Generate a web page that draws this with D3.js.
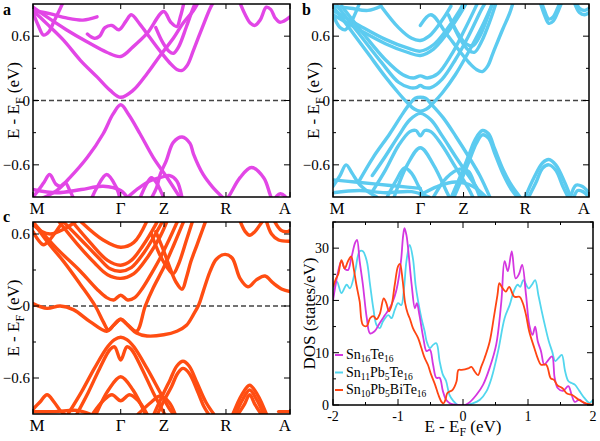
<!DOCTYPE html>
<html><head><meta charset="utf-8">
<script src="https://cdn.jsdelivr.net/npm/d3@7"></script>
<style>body{margin:0;background:#fff}svg{display:block}</style>
</head><body>
<svg id="chart" width="600" height="441" font-family="Liberation Serif, Times New Roman, DejaVu Serif, serif"></svg>
<script>
// ---------------- DATA ----------------
const kLabels = ["M","Γ","Z","R","A"];
const kTicks = [0, 1, 1.494, 2.2, 2.93];
const bandMajorTicks = [-0.6, 0, 0.6];
const bandMinorTicks = [-0.3, 0.3];

// Sn16Te16 bands (k, E-EF)
const bandsA = [
  [[0.11,-0.91],[0.27,-0.84],[0.42,-0.72],[0.62,-0.53],[0.80,-0.31],[0.91,-0.13],[1.0,-0.04],[1.09,-0.13],[1.22,-0.31],[1.37,-0.53],[1.53,-0.72],[1.68,-0.91]],
  [[1.35,-0.91],[1.41,-0.81],[1.45,-0.69],[1.52,-0.56],[1.60,-0.39],[1.70,-0.34],[1.79,-0.40],[1.83,-0.50],[1.94,-0.69],[2.05,-0.81],[2.17,-0.91]],
  [[2.21,-0.92],[2.25,-0.87],[2.36,-0.72],[2.49,-0.625],[2.63,-0.72],[2.70,-0.87],[2.72,-0.92]],
  [[2.76,-0.92],[2.78,-0.89],[2.82,-0.87],[2.87,-0.89],[2.89,-0.92]],
  [[0.0,-0.9],[0.04,-0.86],[0.12,-0.77],[0.19,-0.69],[0.26,-0.78],[0.31,-0.80],[0.37,-0.77],[0.42,-0.84],[0.46,-0.91]],
  [[0.67,-0.91],[0.73,-0.81],[0.84,-0.69],[0.95,-0.81],[0.99,-0.91]],
  [[0.0,-0.83],[0.27,-0.86],[0.55,-0.83],[0.8,-0.80],[1.0,-0.84],[1.08,-0.91]],
  [[1.07,-0.91],[1.20,-0.82],[1.33,-0.75],[1.45,-0.72],[1.56,-0.70],[1.64,-0.75],[1.70,-0.91]],
  [[1.22,-0.91],[1.30,-0.77],[1.35,-0.72],[1.41,-0.77],[1.49,-0.91]],
  [[0.0,0.84],[0.04,0.81],[0.19,0.69],[0.35,0.56],[0.54,0.375],[0.73,0.22],[0.88,0.094],[1.0,0.03],[1.14,0.094],[1.30,0.25],[1.45,0.42],[1.60,0.58],[1.71,0.72],[1.83,0.84],[1.88,0.91]],
  [[0.0,0.87],[0.12,0.80],[0.38,0.66],[0.61,0.55],[0.84,0.45],[1.0,0.41],[1.14,0.50],[1.30,0.625],[1.49,0.83],[1.57,0.73],[1.64,0.69],[1.68,0.78],[1.72,0.91]],
  [[0.62,0.62],[0.70,0.58],[0.76,0.60],[0.82,0.68],[0.90,0.70],[0.98,0.66],[1.06,0.74],[1.12,0.80],[1.22,0.71],[1.33,0.59],[1.45,0.46],[1.56,0.35],[1.64,0.29],[1.70,0.28],[1.76,0.33],[1.83,0.47],[1.93,0.68],[2.02,0.86],[2.06,0.92]],
  [[1.40,0.68],[1.48,0.54],[1.55,0.46],[1.60,0.44],[1.66,0.50],[1.75,0.69],[1.83,0.87],[1.86,0.92]],
  [[2.36,0.91],[2.42,0.80],[2.48,0.72],[2.53,0.70],[2.59,0.75],[2.66,0.87],[2.71,0.85],[2.76,0.77],[2.81,0.73],[2.86,0.74],[2.93,0.78]],
  [[0.0,0.84],[0.19,0.81],[0.38,0.77],[0.57,0.75],[0.73,0.78]],
  [[0.0,0.82],[0.06,0.70],[0.12,0.61],[0.18,0.64],[0.24,0.74],[0.30,0.84],[0.34,0.91]]
];

// Sn11Pb5Te16 bands
const bandsB = [
  [[0.0,0.88],[0.2,0.66],[0.4,0.44],[0.6,0.22],[0.75,0.07],[0.85,-0.02],[0.93,-0.08],[1.0,-0.1],[1.07,-0.08],[1.15,-0.02],[1.25,0.07],[1.4,0.24],[1.55,0.45],[1.7,0.68],[1.83,0.91]],
  [[0.3,-0.75],[0.46,-0.53],[0.65,-0.31],[0.80,-0.12],[0.88,-0.03],[0.94,0.02],[1.0,0.03],[1.06,0.02],[1.12,-0.03],[1.26,-0.16],[1.41,-0.34],[1.55,-0.52],[1.68,-0.70],[1.8,-0.91]],
  [[0.05,0.88],[0.3,0.62],[0.55,0.36],[0.75,0.17],[0.88,0.12],[0.95,0.12],[1.0,0.14],[1.05,0.12],[1.12,0.12],[1.25,0.2],[1.4,0.38],[1.55,0.6],[1.7,0.85],[1.75,0.92]],
  [[0.1,0.88],[0.35,0.62],[0.6,0.38],[0.8,0.24],[0.92,0.21],[1.0,0.23],[1.08,0.21],[1.2,0.25],[1.35,0.42],[1.5,0.65],[1.62,0.85],[1.66,0.92]],
  [[0.0,0.80],[0.3,0.66],[0.6,0.53],[0.85,0.45],[1.0,0.42],[1.15,0.48],[1.3,0.62],[1.45,0.8],[1.52,0.9]],
  [[0.0,0.84],[0.3,0.70],[0.6,0.57],[0.85,0.49],[1.0,0.46],[1.15,0.52],[1.3,0.66],[1.45,0.84],[1.5,0.92]],
  [[0.55,0.88],[0.75,0.68],[0.9,0.58],[1.0,0.56],[1.1,0.6],[1.25,0.75],[1.35,0.88]],
  [[1.0,0.7],[1.12,0.8],[1.3,0.62],[1.45,0.46],[1.56,0.35],[1.64,0.29],[1.71,0.27],[1.77,0.32],[1.83,0.44],[1.94,0.66],[2.02,0.81],[2.06,0.91]],
  [[1.35,0.75],[1.45,0.58],[1.55,0.47],[1.62,0.45],[1.7,0.55],[1.8,0.75],[1.87,0.92]],
  [[1.32,0.8],[1.42,0.64],[1.52,0.53],[1.60,0.51],[1.68,0.60],[1.78,0.80],[1.83,0.92]],
  [[2.37,0.92],[2.42,0.80],[2.47,0.72],[2.52,0.74],[2.58,0.84],[2.62,0.92]],
  [[2.37,0.96],[2.42,0.84],[2.47,0.76],[2.52,0.78],[2.58,0.88],[2.61,0.94]],
  [[2.76,0.92],[2.82,0.82],[2.88,0.80],[2.93,0.82]],
  [[2.76,0.96],[2.82,0.86],[2.88,0.84],[2.93,0.86]],
  [[0.0,0.88],[0.2,0.86],[0.4,0.84],[0.55,0.88]],
  [[0.0,0.80],[0.08,0.68],[0.14,0.66],[0.2,0.72],[0.28,0.86],[0.31,0.92]],
  [[0.45,-0.70],[0.6,-0.52],[0.75,-0.33],[0.88,-0.18],[1.0,-0.12],[1.12,-0.18],[1.25,-0.33],[1.4,-0.52],[1.55,-0.70],[1.65,-0.82],[1.7,-0.9]],
  [[0.45,-0.85],[0.6,-0.65],[0.75,-0.42],[0.88,-0.29],[0.95,-0.28],[1.0,-0.33],[1.05,-0.28],[1.12,-0.29],[1.25,-0.42],[1.4,-0.62],[1.55,-0.82],[1.6,-0.9]],
  [[0.7,-0.9],[0.85,-0.6],[1.0,-0.44],[1.15,-0.6],[1.3,-0.85],[1.33,-0.9]],
  [[1.35,-0.91],[1.45,-0.72],[1.55,-0.52],[1.63,-0.36],[1.71,-0.28],[1.78,-0.31],[1.85,-0.45],[1.95,-0.65],[2.05,-0.8],[2.15,-0.91]],
  [[1.38,-0.91],[1.47,-0.74],[1.56,-0.56],[1.64,-0.40],[1.71,-0.32],[1.78,-0.35],[1.85,-0.49],[1.95,-0.69],[2.05,-0.84],[2.12,-0.91]],
  [[2.2,-0.9],[2.3,-0.72],[2.4,-0.58],[2.47,-0.55],[2.55,-0.6],[2.65,-0.76],[2.72,-0.9]],
  [[2.24,-0.9],[2.32,-0.77],[2.4,-0.63],[2.47,-0.60],[2.55,-0.65],[2.63,-0.80],[2.69,-0.9]],
  [[2.72,-0.9],[2.78,-0.79],[2.85,-0.80],[2.93,-0.86]],
  [[2.75,-0.92],[2.8,-0.84],[2.86,-0.85],[2.93,-0.90]],
  [[0.0,-0.8],[0.08,-0.7],[0.15,-0.6],[0.22,-0.68],[0.3,-0.78],[0.4,-0.85],[0.5,-0.9]],
  [[0.0,-0.74],[0.25,-0.76],[0.5,-0.78],[0.75,-0.80],[1.0,-0.82]],
  [[0.0,-0.86],[0.3,-0.84],[0.6,-0.86],[0.9,-0.85],[1.1,-0.9]],
  [[0.62,-0.9],[0.72,-0.75],[0.82,-0.63],[0.9,-0.68],[0.98,-0.8],[1.05,-0.9]],
  [[1.15,-0.9],[1.3,-0.72],[1.45,-0.64],[1.55,-0.66],[1.62,-0.78],[1.68,-0.9]],
  [[1.0,-0.88],[1.2,-0.80],[1.4,-0.76],[1.6,-0.80],[1.75,-0.90]]
];

// Sn10Pb5BiTe16 bands
const bandsC = [
  [[0.0,0.02],[0.16,-0.02],[0.31,0.0],[0.46,-0.03],[0.65,-0.13],[0.84,-0.21],[0.92,-0.16],[1.0,-0.11],[1.08,-0.16],[1.18,-0.225],[1.3,-0.25],[1.49,-0.24],[1.64,-0.21],[1.75,-0.16],[1.83,-0.07],[1.89,0.01],[1.94,0.12],[2.02,0.29],[2.09,0.39],[2.19,0.43],[2.27,0.40],[2.36,0.23],[2.45,0.16],[2.55,0.22],[2.645,0.25],[2.74,0.19],[2.84,0.14],[2.93,0.12]],
  [[0.0,0.70],[0.19,0.51],[0.35,0.37],[0.54,0.18],[0.71,0.0],[0.80,-0.13],[0.86,-0.2],[0.93,-0.15],[1.0,-0.11],[1.07,-0.15],[1.18,-0.21],[1.28,0.0],[1.37,0.15],[1.49,0.32],[1.6,0.5],[1.72,0.71]],
  [[0.0,0.70],[0.27,0.48],[0.54,0.29],[0.73,0.14],[0.84,0.07],[0.92,0.05],[1.0,0.09],[1.08,0.05],[1.16,0.07],[1.25,0.15],[1.35,0.27],[1.45,0.4],[1.55,0.55],[1.65,0.71]],
  [[0.3,0.70],[0.5,0.52],[0.7,0.36],[0.85,0.26],[1.0,0.23],[1.15,0.27],[1.3,0.4],[1.45,0.58],[1.53,0.71]],
  [[0.35,0.70],[0.55,0.55],[0.75,0.40],[0.88,0.31],[1.0,0.29],[1.12,0.32],[1.27,0.45],[1.42,0.63],[1.48,0.71]],
  [[0.45,0.70],[0.65,0.53],[0.85,0.38],[1.0,0.34],[1.12,0.38],[1.25,0.5],[1.4,0.68],[1.42,0.71]],
  [[0.55,0.70],[0.8,0.55],[1.0,0.49],[1.15,0.53],[1.3,0.71]],
  [[1.4,0.62],[1.49,0.46],[1.56,0.32],[1.63,0.2],[1.70,0.14],[1.75,0.24],[1.8,0.37],[1.87,0.51],[1.94,0.65],[1.97,0.71]],
  [[1.35,0.6],[1.45,0.42],[1.55,0.3],[1.6,0.27],[1.66,0.35],[1.75,0.55],[1.82,0.71]],
  [[2.36,0.71],[2.42,0.62],[2.47,0.59],[2.53,0.62],[2.59,0.68],[2.62,0.71]],
  [[2.66,0.71],[2.72,0.60],[2.8,0.55],[2.93,0.54]],
  [[2.75,0.71],[2.83,0.63],[2.9,0.62],[2.93,0.63]],
  [[0.0,0.62],[0.06,0.55],[0.12,0.51],[0.2,0.56],[0.3,0.66],[0.35,0.71]],
  [[0.0,0.68],[0.1,0.62],[0.2,0.60],[0.35,0.64],[0.5,0.71]],
  [[0.4,-0.9],[0.55,-0.72],[0.7,-0.52],[0.85,-0.34],[0.93,-0.28],[1.0,-0.26],[1.07,-0.28],[1.15,-0.34],[1.3,-0.52],[1.45,-0.72],[1.55,-0.85],[1.6,-0.9]],
  [[0.5,-0.9],[0.63,-0.72],[0.76,-0.52],[0.88,-0.36],[0.93,-0.34],[1.0,-0.45],[1.07,-0.34],[1.12,-0.36],[1.24,-0.52],[1.37,-0.72],[1.5,-0.9]],
  [[0.72,-0.9],[0.86,-0.7],[1.0,-0.59],[1.14,-0.7],[1.28,-0.9]],
  [[0.68,-0.9],[0.8,-0.79],[0.9,-0.74],[1.0,-0.79],[1.1,-0.74],[1.2,-0.79],[1.3,-0.9]],
  [[1.38,-0.9],[1.48,-0.74],[1.56,-0.62],[1.64,-0.50],[1.71,-0.46],[1.78,-0.5],[1.87,-0.64],[1.97,-0.8],[2.06,-0.9]],
  [[1.42,-0.9],[1.5,-0.78],[1.58,-0.67],[1.65,-0.56],[1.71,-0.52],[1.78,-0.56],[1.87,-0.70],[1.95,-0.84],[2.0,-0.9]],
  [[2.28,-0.9],[2.38,-0.74],[2.47,-0.66],[2.56,-0.74],[2.66,-0.9]],
  [[2.31,-0.9],[2.39,-0.78],[2.47,-0.70],[2.55,-0.78],[2.63,-0.9]],
  [[2.34,-0.9],[2.41,-0.82],[2.47,-0.74],[2.53,-0.82],[2.6,-0.9]],
  [[0.0,-0.86],[0.08,-0.8],[0.16,-0.74],[0.24,-0.8],[0.32,-0.88],[0.36,-0.9]],
  [[0.0,-0.88],[0.25,-0.88],[0.5,-0.87],[0.65,-0.9]],
  [[1.2,-0.9],[1.35,-0.8],[1.45,-0.75],[1.55,-0.8],[1.62,-0.9]],
  [[2.8,-0.88],[2.93,-0.88]]
];

// DOS panel
const dosXTicks = [-2, -1, 0, 1, 2];
const dosYTicks = [0, 10, 20, 30];
const seriesNames = ["Sn16Te16", "Sn11Pb5Te16", "Sn10Pb5BiTe16"];
const dosSn16Te16 = [[-2,20],[-1.96,23],[-1.92,25.6],[-1.87,27.5],[-1.82,26.1],[-1.77,25.8],[-1.72,28],[-1.66,31],[-1.63,31.6],[-1.59,27.5],[-1.54,23],[-1.48,16.6],[-1.43,13.7],[-1.36,14.1],[-1.28,15.7],[-1.2,17.2],[-1.13,18.5],[-1.08,19.8],[-1.03,21.7],[-0.98,25],[-0.95,28],[-0.92,32.5],[-0.9,33.8],[-0.87,32.5],[-0.85,30.6],[-0.79,23],[-0.74,18.5],[-0.71,19.5],[-0.67,17.2],[-0.61,12.8],[-0.56,10.3],[-0.51,10.6],[-0.46,7.7],[-0.41,5.2],[-0.36,5.2],[-0.31,2.7],[-0.26,1],[-0.21,0.4],[-0.15,0.1],[-0.05,0],[0.03,0],[0.1,0.5],[0.21,2],[0.31,3.9],[0.41,7.1],[0.51,11.5],[0.59,19.8],[0.64,27.5],[0.69,25.6],[0.75,29.4],[0.81,24.2],[0.86,25],[0.91,26.8],[0.97,21],[1.02,15.3],[1.07,13.4],[1.11,15],[1.15,12.2],[1.2,10.3],[1.25,7.7],[1.3,8.4],[1.37,9.3],[1.41,5.2],[1.46,3.2],[1.54,2.7],[1.62,3.6],[1.67,2],[1.72,0.6],[1.79,1],[1.87,0.3],[1.97,0],[2,0]];
const dosSn11Pb5Te16 = [[-2,22],[-1.94,23.6],[-1.87,21.4],[-1.79,23],[-1.74,22.3],[-1.66,25.6],[-1.59,29.4],[-1.54,29.4],[-1.48,27.5],[-1.43,23],[-1.38,18.5],[-1.33,15.3],[-1.28,14.7],[-1.23,16],[-1.15,17.2],[-1.1,16.6],[-1.05,18.2],[-1.0,19.5],[-0.95,19.1],[-0.91,22],[-0.87,27.5],[-0.82,30.6],[-0.77,28],[-0.73,23],[-0.69,19.8],[-0.64,16.6],[-0.59,14.1],[-0.56,12.2],[-0.51,10.9],[-0.46,11.5],[-0.41,11.8],[-0.36,8.4],[-0.31,5.8],[-0.26,4.6],[-0.21,2],[-0.15,0.8],[-0.08,0],[0.05,0],[0.15,0.3],[0.26,1],[0.36,2.6],[0.44,5.2],[0.54,10.3],[0.64,16.6],[0.72,19.2],[0.78,21.7],[0.84,23],[0.88,22.6],[0.93,23.9],[1.01,22.3],[1.06,23],[1.11,23.9],[1.16,21],[1.21,18],[1.27,14.7],[1.32,12.2],[1.37,10.3],[1.42,8.4],[1.47,9],[1.52,9.6],[1.57,6.5],[1.62,4.6],[1.67,4.2],[1.72,3.9],[1.79,2.7],[1.87,1.3],[1.95,0.4],[2.0,1]];
const dosSn10Pb5BiTe16 = [[-2,22.5],[-1.96,24],[-1.92,25],[-1.87,27.7],[-1.82,26.1],[-1.77,27.5],[-1.72,28.4],[-1.68,26],[-1.64,23],[-1.59,19.8],[-1.54,15.3],[-1.48,15.1],[-1.43,16.6],[-1.38,17.0],[-1.33,16.4],[-1.28,17.4],[-1.22,20.4],[-1.18,19.5],[-1.14,17.9],[-1.1,19],[-1.05,23],[-1.0,26.5],[-0.97,27],[-0.93,24],[-0.89,19.5],[-0.85,17.5],[-0.82,16.6],[-0.77,14.7],[-0.69,12.8],[-0.64,10.9],[-0.59,9],[-0.54,7.7],[-0.49,5.8],[-0.43,3.9],[-0.38,2],[-0.33,0.6],[-0.3,0.3],[-0.27,1],[-0.24,2.3],[-0.16,2.9],[-0.1,4.5],[-0.07,6.7],[-0.02,6.7],[0.03,6.8],[0.08,7],[0.13,7.3],[0.18,6.4],[0.23,5.7],[0.28,7.3],[0.33,8.9],[0.41,12.1],[0.48,17.2],[0.53,21],[0.56,23.3],[0.6,22.5],[0.66,21.7],[0.71,22.6],[0.79,20.7],[0.87,20.7],[0.92,19.5],[0.97,17.2],[1.02,14],[1.1,10.8],[1.15,8.9],[1.2,7.7],[1.28,7.7],[1.35,5.1],[1.4,4.8],[1.45,3.8],[1.53,3.2],[1.6,2.2],[1.68,1.9],[1.78,1],[1.89,0.3],[1.96,0.1],[2,0]];

// ---------------- DRAW ----------------
const FONT = "Liberation Serif, Times New Roman, DejaVu Serif, serif";
const svg = d3.select("#chart");
const cols = {a:"#e246e6", b:"#5ccbf0", c:"#ff4d12"};
const dosCols = ["#d436e0", "#52d6ee", "#ff4512"];

function txt(sel) { return sel.append("text").attr("font-family", FONT); }

function bandPanel(id, bands, color, box, eDom, letter, lx, ly) {
  const g = svg.append("g");
  const x = d3.scaleLinear().domain([kTicks[0], kTicks[kTicks.length-1]]).range([box.x0, box.x1]);
  const y = d3.scaleLinear().domain(eDom).range([box.y1, box.y0]);
  const clip = "clip-" + id;
  svg.append("clipPath").attr("id", clip).append("rect")
    .attr("x", box.x0).attr("y", box.y0).attr("width", box.x1-box.x0).attr("height", box.y1-box.y0);
  g.append("line").attr("x1", box.x0).attr("x2", box.x1).attr("y1", y(0)).attr("y2", y(0))
    .attr("stroke", "#444").attr("stroke-width", 1.4).attr("stroke-dasharray", "5,3");
  const line = d3.line().x(d => x(d[0])).y(d => y(d[1])).curve(d3.curveCatmullRom.alpha(0.5));
  g.append("g").attr("clip-path", `url(#${clip})`).selectAll("path").data(bands).join("path")
    .attr("d", line).attr("fill", "none").attr("stroke", color).attr("stroke-width", 3.4)
    .attr("stroke-linecap", "round").attr("stroke-linejoin", "round");
  g.append("rect").attr("x", box.x0).attr("y", box.y0).attr("width", box.x1-box.x0).attr("height", box.y1-box.y0)
    .attr("fill", "none").attr("stroke", "#000").attr("stroke-width", 1.5);
  const yt = g.append("g");
  bandMajorTicks.forEach(v => {
    yt.append("line").attr("x1", box.x0).attr("x2", box.x0+6).attr("y1", y(v)).attr("y2", y(v)).attr("stroke", "#000");
    yt.append("line").attr("x1", box.x1).attr("x2", box.x1-6).attr("y1", y(v)).attr("y2", y(v)).attr("stroke", "#000");
    txt(yt).attr("x", box.x0-3).attr("y", y(v)+5).attr("text-anchor", "end").attr("font-size", 15)
      .text(v === 0 ? "0" : d3.format(".1f")(v));
  });
  bandMinorTicks.forEach(v => {
    yt.append("line").attr("x1", box.x0).attr("x2", box.x0+3).attr("y1", y(v)).attr("y2", y(v)).attr("stroke", "#000");
    yt.append("line").attr("x1", box.x1).attr("x2", box.x1-3).attr("y1", y(v)).attr("y2", y(v)).attr("stroke", "#000");
  });
  kTicks.forEach((k, i) => {
    g.append("line").attr("x1", x(k)).attr("x2", x(k)).attr("y1", box.y1).attr("y2", box.y1-5).attr("stroke", "#000");
    g.append("line").attr("x1", x(k)).attr("x2", x(k)).attr("y1", box.y0).attr("y2", box.y0+5).attr("stroke", "#000");
    const dx = i === 0 ? 4 : (i === kTicks.length-1 ? -5 : 0);
    txt(g).attr("x", x(k)+dx).attr("y", box.y1+17).attr("text-anchor", "middle").attr("font-size", 17).text(kLabels[i]);
  });
  const cy = (box.y0 + box.y1)/2;
  const t = txt(g).attr("transform", `translate(${box.x0-14},${cy}) rotate(-90)`)
    .attr("text-anchor", "middle").attr("font-size", 17);
  t.append("tspan").text("E - E");
  t.append("tspan").attr("font-size", 12).attr("dy", 5).text("F");
  t.append("tspan").attr("dy", -5).text(" (eV)");
  txt(svg).attr("x", lx).attr("y", ly).attr("font-size", 16).attr("font-weight", "bold").text(letter);
}

bandPanel("a", bandsA, cols.a, {x0:33, x1:290, y0:4, y1:197}, [-0.9, 0.9], "a", 3, 15);
bandPanel("b", bandsB, cols.b, {x0:333, x1:589, y0:4, y1:197}, [-0.9, 0.9], "b", 302, 15);
bandPanel("c", bandsC, cols.c, {x0:33, x1:290, y0:222, y1:414}, [-0.9, 0.7], "c", 3, 222);

(function(){
  const box = {x0:333, x1:593, y0:222, y1:405};
  const x = d3.scaleLinear().domain([-2, 2]).range([box.x0, box.x1]);
  const y = d3.scaleLinear().domain([0, 35]).range([box.y1, box.y0]);
  const g = svg.append("g");
  svg.append("clipPath").attr("id", "clip-d").append("rect")
    .attr("x", box.x0).attr("y", box.y0).attr("width", box.x1-box.x0).attr("height", box.y1-box.y0);
  const line = d3.line().x(d => x(d[0])).y(d => y(d[1])).curve(d3.curveCatmullRom.alpha(0.5));
  const all = [dosSn16Te16, dosSn11Pb5Te16, dosSn10Pb5BiTe16];
  const order = [1, 0, 2];
  g.append("g").attr("clip-path", "url(#clip-d)").selectAll("path").data(order).join("path")
    .attr("d", i => line(all[i])).attr("fill", "none").attr("stroke", i => dosCols[i]).attr("stroke-width", 1.8);
  g.append("rect").attr("x", box.x0).attr("y", box.y0).attr("width", box.x1-box.x0).attr("height", box.y1-box.y0)
    .attr("fill", "none").attr("stroke", "#000").attr("stroke-width", 1.5);
  d3.range(-2, 2.01, 0.5).forEach(v => {
    const major = Math.abs(v - Math.round(v)) < 1e-6;
    const L = major ? 6 : 3;
    g.append("line").attr("x1", x(v)).attr("x2", x(v)).attr("y1", box.y1).attr("y2", box.y1-L).attr("stroke", "#000");
    g.append("line").attr("x1", x(v)).attr("x2", x(v)).attr("y1", box.y0).attr("y2", box.y0+L).attr("stroke", "#000");
  });
  dosXTicks.forEach(v => {
    txt(g).attr("x", x(v)).attr("y", box.y1+16).attr("text-anchor", "middle").attr("font-size", 14).text(v);
  });
  d3.range(0, 35.1, 5).forEach(v => {
    const major = v % 10 === 0;
    const L = major ? 6 : 3;
    g.append("line").attr("x1", box.x0).attr("x2", box.x0+L).attr("y1", y(v)).attr("y2", y(v)).attr("stroke", "#000");
    g.append("line").attr("x1", box.x1).attr("x2", box.x1-L).attr("y1", y(v)).attr("y2", y(v)).attr("stroke", "#000");
  });
  dosYTicks.forEach(v => {
    txt(g).attr("x", box.x0-4).attr("y", y(v)+5).attr("text-anchor", "end").attr("font-size", 14).text(v);
  });
  const xl = txt(g).attr("x", (box.x0+box.x1)/2).attr("y", 432).attr("text-anchor", "middle").attr("font-size", 17);
  xl.append("tspan").text("E - E");
  xl.append("tspan").attr("font-size", 12).attr("dy", 4).text("F");
  xl.append("tspan").attr("dy", -4).text(" (eV)");
  txt(g).attr("transform", `translate(315,${(box.y0+box.y1)/2}) rotate(-90)`).attr("text-anchor", "middle")
    .attr("font-size", 17).text("DOS (states/eV)");
  const legY = [359, 376.5, 394];
  const parts = [[["Sn",""],["16","s"],["Te",""],["16","s"]],
                 [["Sn",""],["11","s"],["Pb",""],["5","s"],["Te",""],["16","s"]],
                 [["Sn",""],["10","s"],["Pb",""],["5","s"],["BiTe",""],["16","s"]]];
  seriesNames.forEach((name, i) => {
    g.append("line").attr("x1", 335).attr("x2", 343).attr("y1", legY[i]-4).attr("y2", legY[i]-4)
      .attr("stroke", dosCols[i]).attr("stroke-width", 2);
    const t = txt(g).attr("x", 346).attr("y", legY[i]).attr("font-size", 14);
    let sub = false;
    parts[i].forEach(([s, kind]) => {
      const ts = t.append("tspan").text(s);
      if (kind === "s" && !sub) { ts.attr("dy", 3).attr("font-size", 9.5); sub = true; }
      else if (kind === "s") { ts.attr("font-size", 9.5); }
      else if (sub) { ts.attr("dy", -3); sub = false; }
    });
  });
})();
</script>
</body></html>
